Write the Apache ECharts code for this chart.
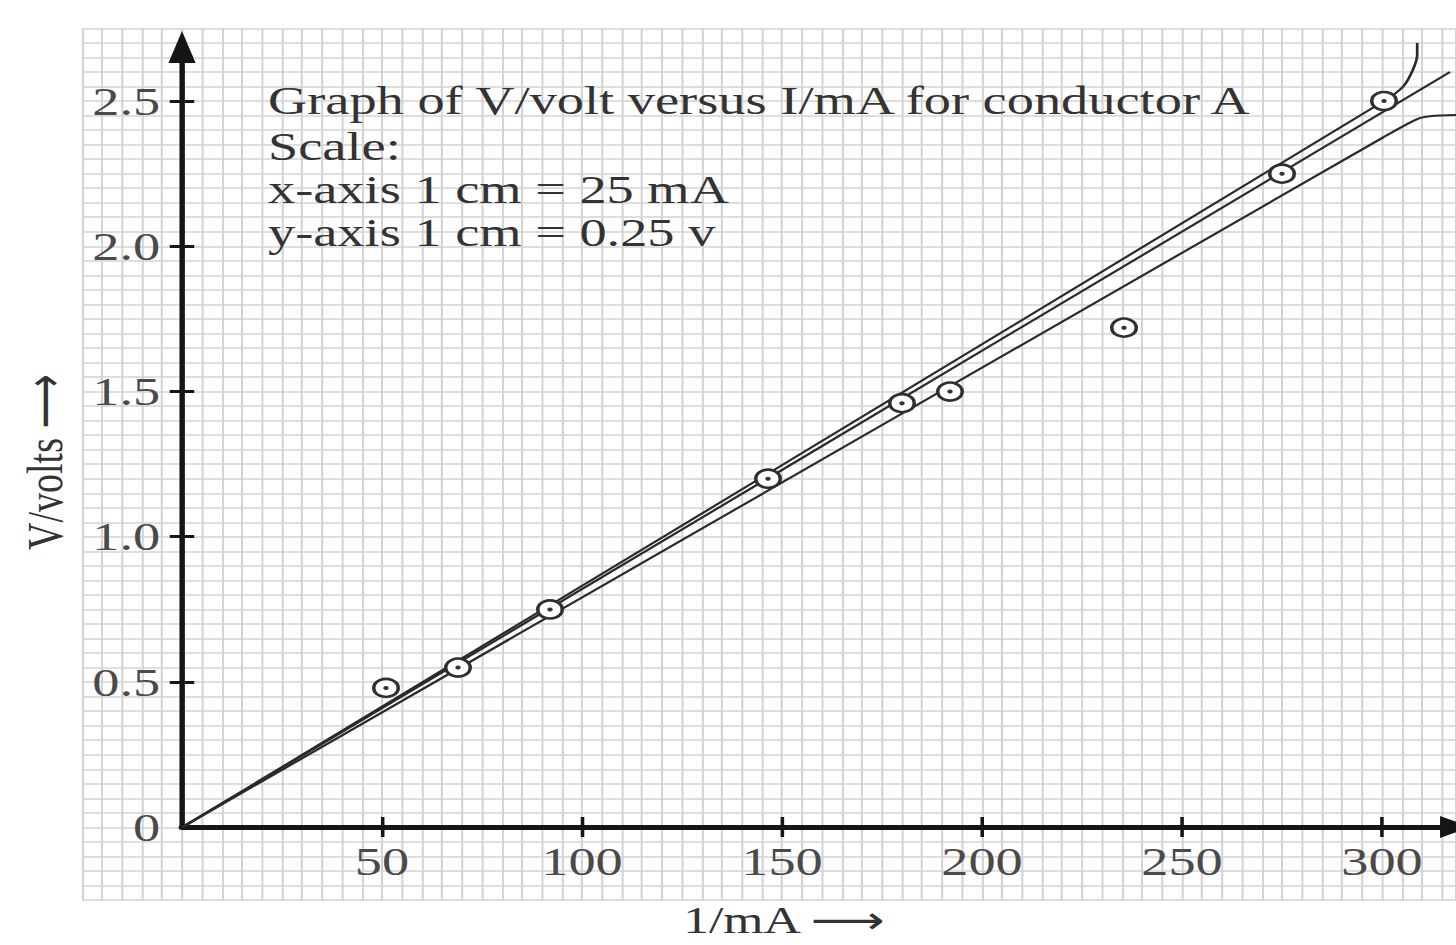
<!DOCTYPE html>
<html>
<head>
<meta charset="utf-8">
<script src="https://cdn.jsdelivr.net/npm/echarts@6/dist/echarts.min.js"></script>
<style>
html,body{margin:0;padding:0;background:#fff;overflow:hidden;}
#main{width:1071px;height:945px;transform:scaleX(1.359477);transform-origin:0 0;}
</style>
</head>
<body>
<div id="main"></div>
<script>
// ---- data ----
const xTickLabels = [50, 100, 150, 200, 250, 300];
const yTickLabels = [0, 0.5, 1.0, 1.5, 2.0, 2.5];
const currentMA = [51, 69, 92, 146.5, 180, 192, 235.5, 275, 300.5];
const voltage   = [0.48, 0.55, 0.75, 1.2, 1.46, 1.5, 1.72, 2.25, 2.5];
const bestFitLine = [[0, 0], [317, 2.6]];
const upperLine = [[0, 0], [300.5, 2.5], [305.3, 2.55], [307.8, 2.61], [308.8, 2.66], [308.8, 2.7]];
const lowerLine = [[0, 0], [300.3, 2.375], [308.8, 2.438], [312, 2.448], [318.5, 2.452]];
const annotation = [
  'Graph of V/volt versus I/mA for conductor A',
  'Scale:',
  'x-axis 1 cm = 25 mA',
  'y-axis 1 cm = 0.25 v'
];
const xTitle = '1/mA \u27F6';
const yTitle = 'V/volts \u27F6';

// ---- chart ----
const chart = echarts.init(document.getElementById('main'), null, {renderer: 'svg'});
const FONT = '"Liberation Serif", "DejaVu Serif", serif';
const AX = '#151515';
const points = currentMA.map((x, i) => [x, voltage[i]]);

const annotationLineY = [100, 146, 189, 232];
const graphics = annotation.map((t, i) => ({
  type: 'text', x: 197.1, y: annotationLineY[i], silent: true, z: 10,
  style: {text: t, fill: '#333', fontSize: 40, fontFamily: FONT, align: 'left', verticalAlign: 'middle', textAlign: 'left', textVerticalAlign: 'middle'}
}));
graphics.push({
  type: 'text', x: 576.7, y: 920, silent: true,
  style: {text: xTitle, fill: '#333', fontSize: 38, fontFamily: '"Liberation Serif", "DejaVu Sans", serif', align: 'center', verticalAlign: 'middle', textAlign: 'center', textVerticalAlign: 'middle'}
});
graphics.push({
  type: 'text', x: 33, y: 462, rotation: Math.PI / 2, silent: true,
  style: {text: yTitle, fill: '#333', fontSize: 38, fontFamily: '"Liberation Serif", "DejaVu Sans", serif', align: 'center', verticalAlign: 'middle', textAlign: 'center', textVerticalAlign: 'middle'}
});

const paperLine = {show: true, lineStyle: {color: '#d3d3d3', width: 1.5}};
const lineStyle = {color: '#2a2a2a', width: 2};

chart.setOption({
  animation: false,
  backgroundColor: '#ffffff',
  graphic: graphics,
  grid: [
    {left: 60.32, right: 0, top: 28.4, bottom: 45},
    {left: 133.87, right: 0.74, top: 47, bottom: 118}
  ],
  xAxis: [
    {type: 'value', gridIndex: 0, min: -25, max: 318.5, interval: 5,
     axisLine: {show: false}, axisTick: {show: false}, axisLabel: {show: false}, splitLine: paperLine},
    {type: 'value', gridIndex: 1, position: 'bottom', min: 0, max: 318.25,
     axisLine: {show: true, onZero: false, symbol: ['none', 'triangle'], symbolSize: [22, 22], lineStyle: {color: AX, width: 5}},
     axisTick: {show: true, customValues: xTickLabels, length: 10, lineStyle: {color: AX, width: 2.6}},
     axisLabel: {show: true, customValues: xTickLabels, margin: 14, fontSize: 40, fontFamily: FONT, color: '#4a4a4a'},
     splitLine: {show: false}},
    {type: 'value', gridIndex: 1, position: 'bottom', min: 0, max: 318.25,
     axisLine: {show: false, onZero: false},
     axisTick: {show: true, inside: true, customValues: xTickLabels, length: 10, lineStyle: {color: AX, width: 2.6}},
     axisLabel: {show: false}, splitLine: {show: false}}
  ],
  yAxis: [
    {type: 'value', gridIndex: 0, min: -0.25, max: 2.75, interval: 0.05,
     axisLine: {show: false}, axisTick: {show: false}, axisLabel: {show: false}, splitLine: paperLine},
    {type: 'value', gridIndex: 1, position: 'left', min: 0, max: 2.686,
     axisLine: {show: true, onZero: false, symbol: ['none', 'triangle'], symbolSize: [20, 32], lineStyle: {color: AX, width: 4}},
     axisTick: {show: true, customValues: yTickLabels.filter(v => v > 0), length: 9, lineStyle: {color: AX, width: 3}},
     axisLabel: {show: true, customValues: yTickLabels, margin: 16, fontSize: 40, fontFamily: FONT, color: '#4a4a4a',
       formatter: v => (v === 0 ? '0' : Number(v).toFixed(1))},
     splitLine: {show: false}},
    {type: 'value', gridIndex: 1, position: 'left', min: 0, max: 2.686,
     axisLine: {show: false, onZero: false},
     axisTick: {show: true, inside: true, customValues: yTickLabels.filter(v => v > 0), length: 9, lineStyle: {color: AX, width: 3}},
     axisLabel: {show: false}, splitLine: {show: false}}
  ],
  series: [
    {name: 'upper', type: 'line', xAxisIndex: 0, yAxisIndex: 0, data: upperLine, showSymbol: false, smooth: 0.3, lineStyle: lineStyle, z: 3, silent: true},
    {name: 'best fit', type: 'line', xAxisIndex: 0, yAxisIndex: 0, data: bestFitLine, showSymbol: false, lineStyle: lineStyle, z: 3, silent: true},
    {name: 'lower', type: 'line', xAxisIndex: 0, yAxisIndex: 0, data: lowerLine, showSymbol: false, smooth: 0.3, lineStyle: lineStyle, z: 3, silent: true},
    {name: 'readings', type: 'scatter', xAxisIndex: 0, yAxisIndex: 0, data: points, symbol: 'circle', symbolSize: 18,
     itemStyle: {color: '#ffffff', borderColor: '#2f2f2f', borderWidth: 2.6, opacity: 1}, z: 5},
    {name: 'centres', type: 'scatter', xAxisIndex: 0, yAxisIndex: 0, data: points, symbol: 'circle', symbolSize: 4,
     itemStyle: {color: '#333', opacity: 1}, z: 6}
  ]
});
</script>
</body>
</html>
